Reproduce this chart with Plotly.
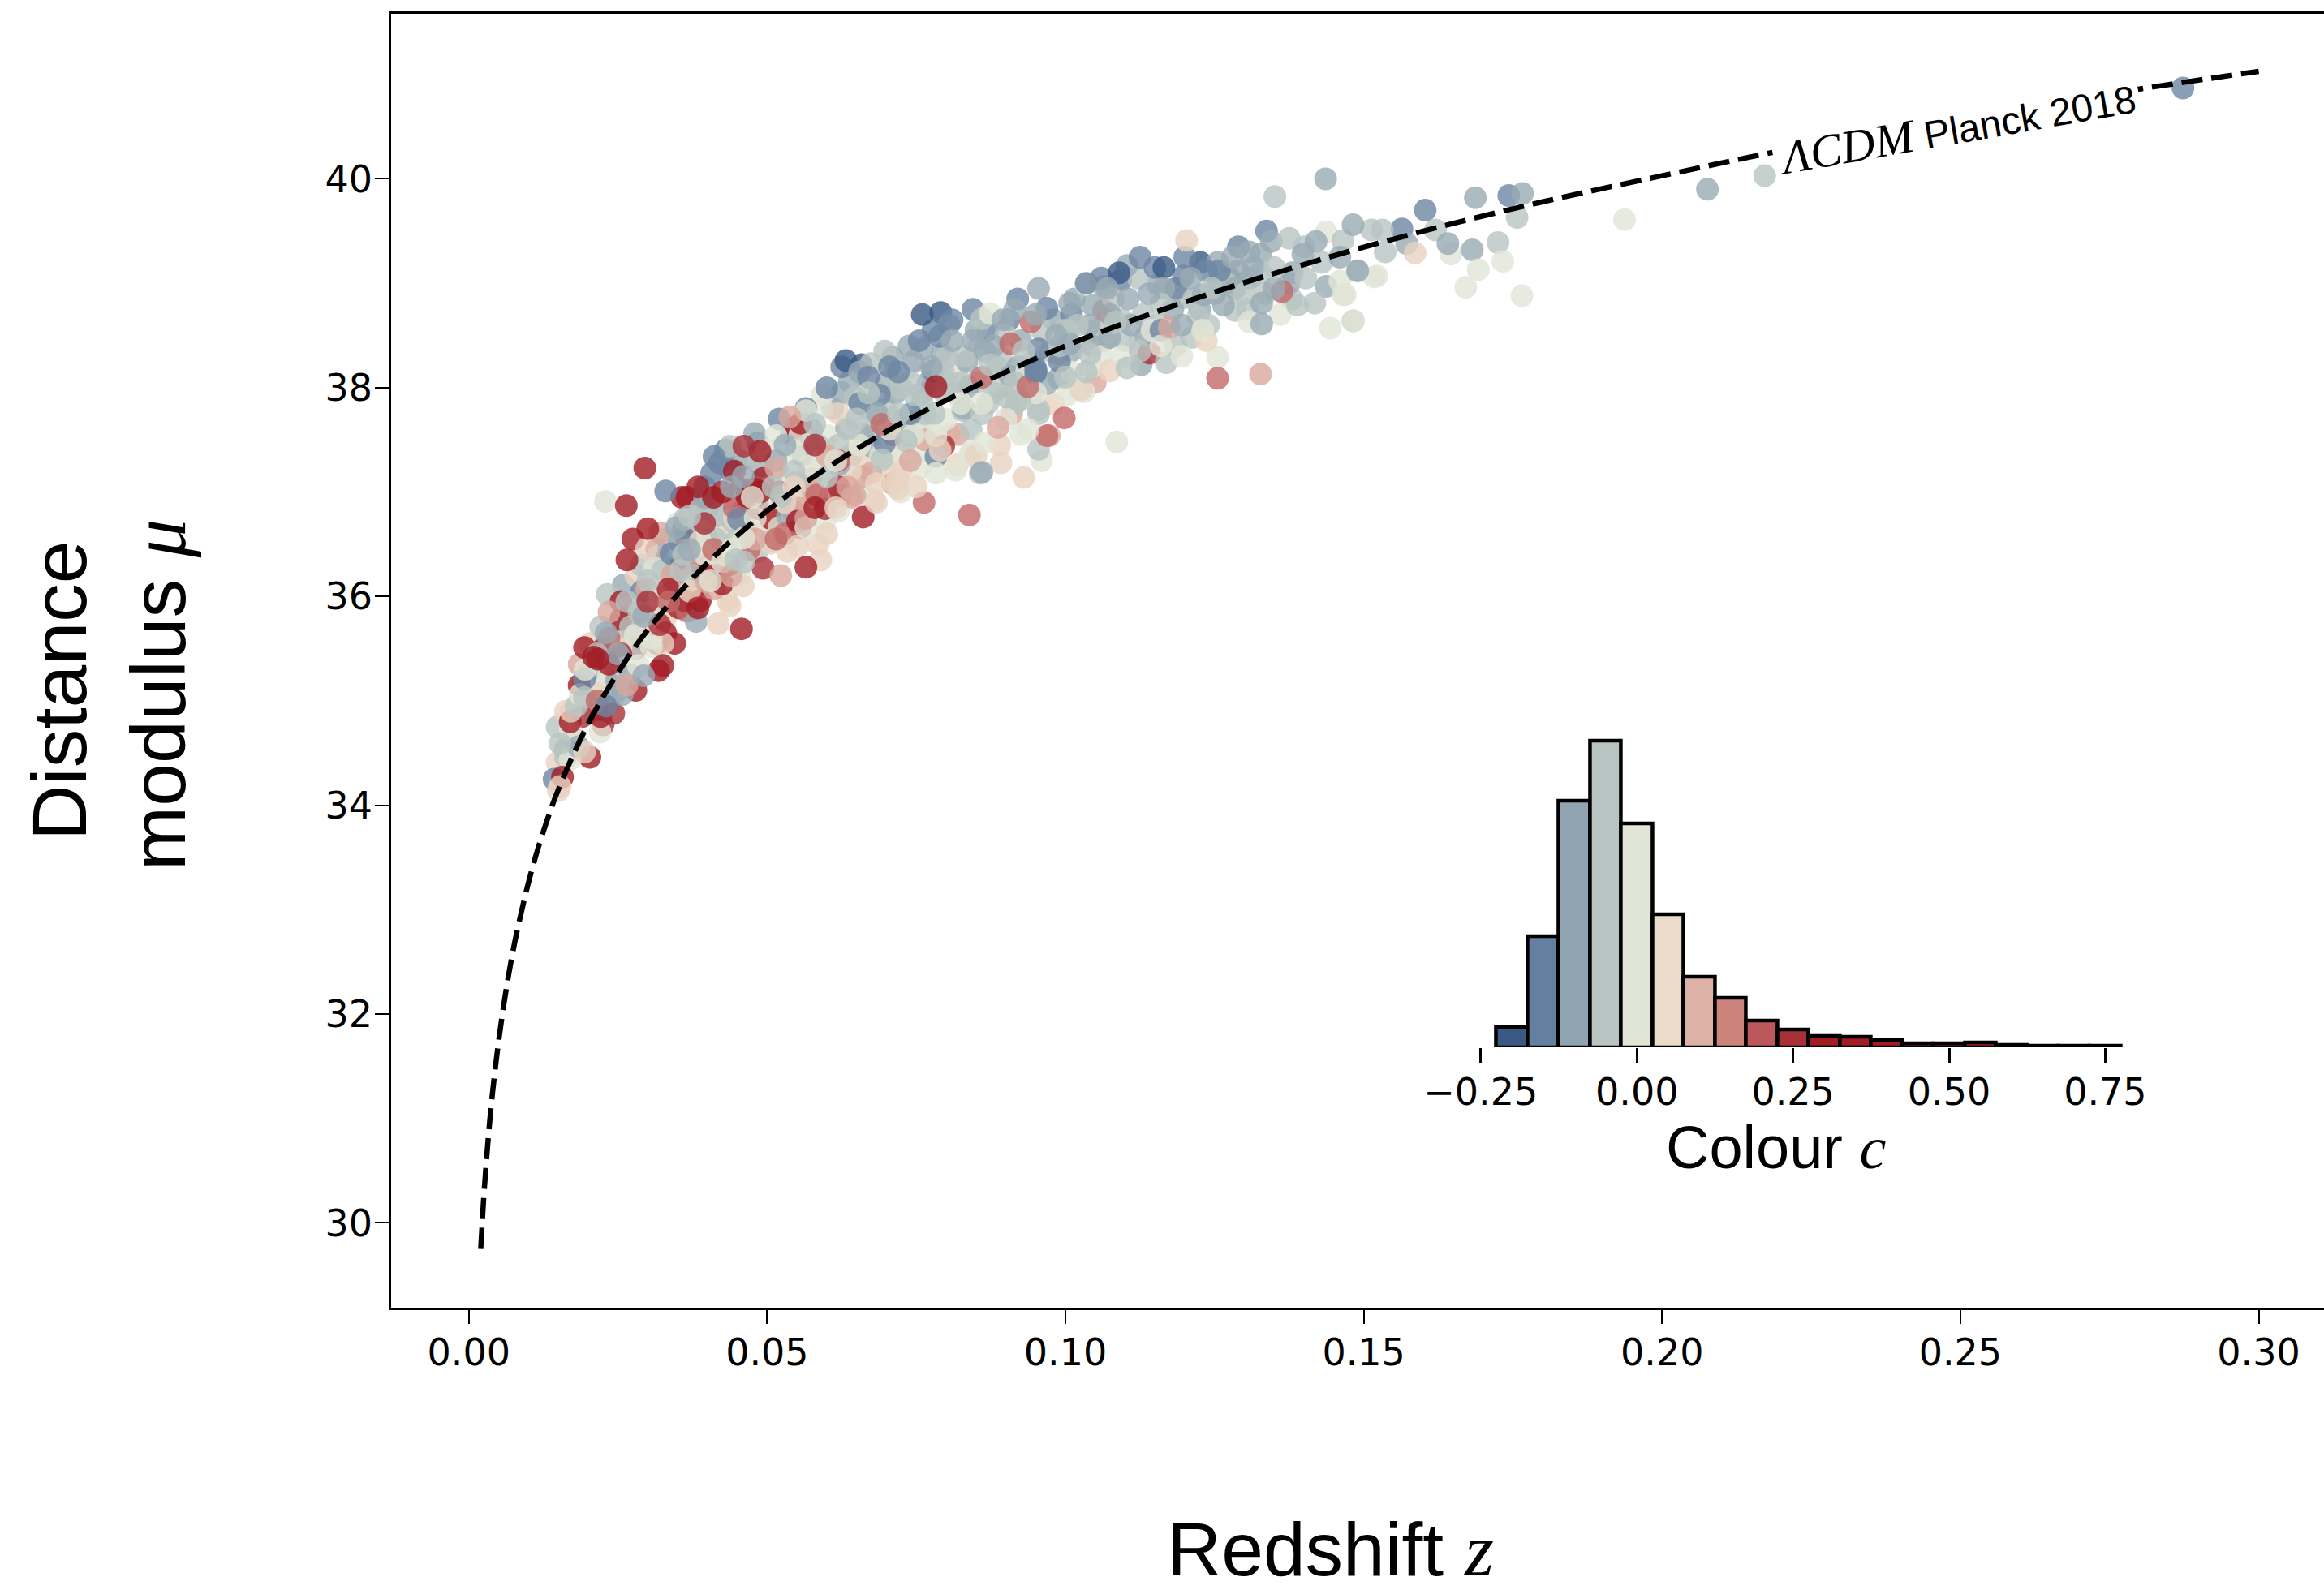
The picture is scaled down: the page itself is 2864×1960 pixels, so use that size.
import plotly.graph_objects as go

# ---------------- Supernova data, grouped by colour class ----------------
z_darkblue = [0.0791, 0.0632, 0.0658, 0.1165, 0.1226, 0.1090, 0.0760]
mu_darkblue = [38.72, 38.26, 38.22, 39.15, 39.20, 39.10, 38.70]
c_darkblue = -0.20

z_blue = [0.0330, 0.0194, 0.0143, 0.0252, 0.0339, 0.0203, 0.0778, 0.0789, 0.0778, 0.0969,
          0.0951, 0.0520, 0.0574, 0.0688, 0.0783, 0.0438, 0.0420, 0.0407, 0.0452, 0.0697,
          0.0484, 0.0411, 0.1337, 0.1258, 0.1255, 0.1236, 0.1198, 0.1093, 0.0950, 0.0955,
          0.0950, 0.1743, 0.1603, 0.1564, 0.2873,
          0.0290, 0.0360, 0.0430, 0.0470, 0.0540, 0.0600, 0.0670, 0.0720, 0.0810, 0.0870,
          0.0920, 0.1010, 0.1060, 0.1150, 0.1200, 0.1290, 0.1160, 0.0990, 0.0740, 0.0230,
          0.0625, 0.0705, 0.0755, 0.0845, 0.0905, 0.1035, 0.1125, 0.1185, 0.1275, 0.0655,
          0.0565, 0.0395]
mu_blue = [37.01, 35.21, 34.25, 35.60, 36.41, 35.29, 38.55, 38.49, 38.16, 38.76,
           38.16, 37.70, 37.49, 37.93, 37.34, 37.21, 37.28, 37.18, 36.74, 37.47,
           37.47, 37.34, 39.50, 39.12, 38.99, 39.12, 39.07, 39.03, 38.19, 38.37,
           38.14, 39.84, 39.70, 39.52, 40.87,
           36.05, 36.65, 37.40, 36.95, 37.55, 38.00, 38.10, 38.15, 38.65, 38.55,
           38.85, 38.70, 39.05, 39.15, 39.25, 39.35, 38.55, 38.25, 37.75, 34.95,
           38.20, 38.20, 38.45, 38.75, 38.65, 39.00, 39.25, 38.95, 39.05, 37.85,
           37.80, 37.05]
c_blue = -0.14

z_bluegrey = [0.0381, 0.0259, 0.0257, 0.0293, 0.0238, 0.0184, 0.0343, 0.0352, 0.0543, 0.0293,
              0.0250, 0.0248, 0.0248, 0.0162, 0.0710, 0.0760, 0.0915, 0.0969, 0.0860, 0.0479,
              0.0633, 0.0638, 0.0674, 0.0348, 0.0534, 0.0837, 0.0738, 0.0620, 0.1482, 0.1308,
              0.1327, 0.1398, 0.1437, 0.1329, 0.1329, 0.1289, 0.1103, 0.1064, 0.1155, 0.1231,
              0.1265, 0.1127, 0.0988, 0.1007, 0.1074, 0.1045, 0.1007, 0.0793, 0.0845, 0.0907,
              0.1687, 0.1766, 0.2076, 0.1572, 0.1641, 0.1682, 0.1490, 0.1436,
              0.0230, 0.0270, 0.0310, 0.0370, 0.0400, 0.0440, 0.0490, 0.0560, 0.0610, 0.0660,
              0.0700, 0.0730, 0.0770, 0.0810, 0.0850, 0.0880, 0.0920, 0.0950, 0.0980, 0.1010,
              0.1040, 0.1070, 0.1110, 0.1140, 0.1180, 0.1210, 0.1250, 0.1280, 0.1310, 0.1350,
              0.1380, 0.1420, 0.1460, 0.0890, 0.0830, 0.0760, 0.0640, 0.0530, 0.0460,
              0.0575, 0.0625, 0.0655, 0.0685, 0.0715, 0.0745, 0.0775, 0.0805, 0.0835, 0.0865,
              0.0895, 0.0925, 0.0955, 0.0985, 0.1015, 0.1045, 0.1075, 0.1105, 0.1135, 0.1165,
              0.1195, 0.1225, 0.1255, 0.1285, 0.1315, 0.1345, 0.1375, 0.0515, 0.0455, 0.0395]
mu_bluegrey = [35.76, 36.11, 35.06, 35.24, 35.40, 34.56, 36.27, 36.53, 36.82, 35.81,
               35.45, 35.19, 35.09, 34.54, 38.29, 38.37, 38.75, 38.04, 37.19, 37.56,
               37.62, 38.06, 37.44, 36.66, 36.77, 38.01, 38.40, 37.26, 39.56, 39.30,
               39.28, 39.28, 38.97, 38.81, 38.61, 39.12, 39.17, 38.97, 38.99, 38.89,
               38.79, 38.22, 38.09, 38.42, 38.48, 38.79, 38.81, 38.32, 38.45, 38.11,
               39.82, 39.86, 39.90, 39.38, 39.38, 39.32, 39.12, 40.00,
               35.65, 35.25, 35.95, 36.45, 36.85, 37.05, 37.25, 37.35, 37.80, 37.55,
               38.05, 37.70, 38.05, 38.45, 38.55, 38.40, 38.20, 38.70, 38.65, 38.35,
               38.60, 38.95, 38.60, 38.90, 38.75, 39.05, 38.90, 39.25, 39.05, 38.95,
               39.10, 39.40, 39.25, 38.00, 37.80, 37.95, 37.35, 37.45, 37.15,
               37.60, 37.95, 38.15, 37.75, 37.95, 38.25, 38.20, 38.60, 38.25, 38.35,
               38.65, 38.45, 38.95, 38.50, 38.85, 38.40, 38.70, 38.85, 38.50, 38.95,
               38.60, 38.75, 39.20, 38.95, 39.15, 39.40, 39.00, 37.30, 37.30, 36.95]
c_bluegrey = -0.09

z_grey = [0.0232, 0.0148, 0.0153, 0.0275, 0.0234, 0.0316, 0.0289, 0.0388, 0.0361, 0.0415,
          0.0524, 0.0442, 0.0483, 0.0447, 0.0461, 0.0506, 0.0352, 0.0271, 0.0221, 0.0194,
          0.0175, 0.0162, 0.0674, 0.0860, 0.0892, 0.0923, 0.0955, 0.0860, 0.0955, 0.0647,
          0.0710, 0.0747, 0.0796, 0.0756, 0.0738, 0.0438, 0.0370, 0.0388, 0.0420, 0.0692,
          0.0733, 0.0842, 0.0828, 0.0901, 0.0883, 0.0801, 0.0697, 0.0484, 0.1351, 0.1513,
          0.1375, 0.1465, 0.1489, 0.1403, 0.1418, 0.1389, 0.1379, 0.1482, 0.1284, 0.1327,
          0.1122, 0.1198, 0.1222, 0.1212, 0.1169, 0.1103, 0.1041, 0.1084, 0.0998, 0.0874,
          0.0917, 0.0955, 0.0857, 0.1757, 0.2172, 0.1531, 0.1620, 0.1536, 0.1725,
          0.0205, 0.0245, 0.0265, 0.0300, 0.0330, 0.0360, 0.0400, 0.0430, 0.0470, 0.0510,
          0.0550, 0.0580, 0.0620, 0.0650, 0.0680, 0.0700, 0.0720, 0.0760, 0.0780, 0.0800,
          0.0830, 0.0850, 0.0880, 0.0900, 0.0930, 0.0960, 0.0990, 0.1020, 0.1050, 0.1080,
          0.1100, 0.1130, 0.1160, 0.1190, 0.1240, 0.1270, 0.1300, 0.1350, 0.1400, 0.1430,
          0.1000, 0.0945, 0.0870, 0.0815, 0.0740, 0.0670, 0.0600, 0.0450, 0.0375, 0.0285,
          0.0215, 0.0180,
          0.0545, 0.0585, 0.0635, 0.0665, 0.0695, 0.0725, 0.0765, 0.0795, 0.0825, 0.0855,
          0.0885, 0.0915, 0.0945, 0.0975, 0.1005, 0.1035, 0.1065, 0.1095, 0.1125, 0.1155,
          0.1185, 0.1215, 0.1245, 0.1305, 0.1335, 0.0355, 0.0325, 0.0255, 0.0415, 0.0485]
mu_grey = [36.02, 34.75, 34.59, 35.50, 34.98, 36.38, 36.30, 36.84, 36.74, 36.77,
           36.96, 36.72, 36.43, 36.35, 36.33, 36.53, 36.02, 35.71, 35.71, 35.03,
           34.64, 34.46, 38.23, 38.66, 38.28, 37.88, 37.79, 37.75, 37.41, 37.91,
           38.11, 37.93, 37.96, 37.67, 37.54, 37.44, 36.77, 36.71, 36.77, 37.31,
           37.49, 37.60, 37.78, 37.91, 38.11, 38.29, 38.35, 37.31, 39.83, 39.51,
           39.43, 39.41, 39.12, 39.05, 38.81, 38.79, 38.85, 38.64, 38.74, 39.10,
           39.05, 38.86, 38.68, 38.48, 38.24, 38.19, 38.32, 38.63, 38.55, 38.22,
           37.85, 37.75, 37.18, 39.63, 40.03, 39.51, 39.51, 39.30, 39.39,
           35.30, 35.55, 35.95, 36.15, 36.55, 36.40, 36.55, 36.95, 36.85, 37.05,
           37.10, 37.65, 37.45, 37.70, 37.60, 37.80, 37.75, 37.85, 37.75, 38.10,
           38.30, 38.05, 37.95, 38.50, 38.35, 38.55, 38.40, 38.60, 38.55, 38.85,
           38.45, 38.70, 38.80, 38.95, 38.60, 39.00, 38.90, 39.15, 39.35, 39.20,
           38.10, 37.95, 37.85, 37.95, 38.05, 37.95, 37.15, 36.55, 36.20, 35.85,
           35.45, 34.95,
           37.20, 37.45, 37.60, 37.80, 37.60, 38.00, 37.75, 38.15, 38.05, 38.40,
           38.20, 38.05, 38.25, 38.35, 38.55, 38.15, 38.45, 38.65, 38.35, 38.60,
           38.40, 38.85, 38.95, 38.75, 38.90, 36.25, 36.25, 35.80, 36.55, 36.95]
c_grey = -0.05

z_cream = [0.0229, 0.0187, 0.0306, 0.0284, 0.0234, 0.0211, 0.0189, 0.0170, 0.0311, 0.0388,
           0.0461, 0.0425, 0.0597, 0.0289, 0.0306, 0.0279, 0.0262, 0.0189, 0.0170, 0.0819,
           0.0874, 0.0842, 0.0937, 0.0602, 0.0592, 0.0738, 0.0756, 0.0547, 0.0520, 0.0565,
           0.0620, 0.0710, 0.0783, 0.0864, 0.0592, 0.0565, 0.0434, 0.0515, 0.0592, 0.0724,
           0.0756, 0.0783, 0.1437, 0.1522, 0.1460, 0.1465, 0.1444, 0.1308, 0.1034, 0.1255,
           0.1031, 0.1003, 0.0821, 0.0840, 0.0816, 0.1086, 0.1937, 0.1646, 0.1733, 0.1692,
           0.1671, 0.1765, 0.1517, 0.1469, 0.1483,
           0.0195, 0.0220, 0.0255, 0.0295, 0.0320, 0.0350, 0.0395, 0.0440, 0.0480, 0.0500,
           0.0540, 0.0570, 0.0610, 0.0640, 0.0690, 0.0730, 0.0770, 0.0800, 0.0860, 0.0900,
           0.0950, 0.1010, 0.1060, 0.1120, 0.1160, 0.1230, 0.1360, 0.0960, 0.0660, 0.0455,
           0.0475, 0.0525, 0.0555, 0.0615, 0.0655, 0.0705, 0.0745, 0.0825, 0.0885, 0.0935,
           0.1045, 0.1095, 0.1145, 0.1195, 0.0345, 0.0305, 0.0245, 0.0405, 0.0925, 0.0785]
mu_cream = [36.91, 35.06, 35.52, 35.34, 35.24, 35.19, 34.88, 34.72, 36.27, 36.53,
            36.56, 36.33, 36.72, 35.94, 35.60, 35.63, 35.32, 35.13, 34.44, 38.20,
            38.71, 37.39, 37.60, 37.54, 37.80, 38.19, 37.39, 37.39, 36.66, 36.66,
            36.82, 37.39, 37.54, 37.47, 37.93, 37.78, 37.41, 37.54, 37.31, 37.00,
            37.23, 37.18, 39.49, 39.07, 39.02, 38.89, 38.57, 38.63, 38.99, 38.29,
            37.96, 37.93, 38.22, 37.36, 37.21, 37.48, 39.61, 39.28, 39.21, 39.13,
            38.96, 38.88, 39.06, 38.89, 38.64,
            35.30, 34.70, 35.50, 35.75, 36.00, 36.70, 36.40, 36.45, 36.75, 37.40,
            36.95, 37.25, 37.10, 37.65, 37.35, 37.35, 37.60, 37.70, 37.85, 37.70,
            37.95, 38.15, 38.30, 38.40, 38.40, 38.55, 38.70, 37.30, 37.00, 36.20,
            36.95, 37.15, 37.55, 37.30, 37.45, 37.60, 37.55, 37.85, 38.05, 38.15,
            38.20, 38.30, 38.55, 38.30, 36.05, 35.85, 35.05, 36.15, 37.55, 37.35]
c_cream = 0.0

z_lightpink = [0.0585, 0.0418, 0.0434, 0.0171, 0.0150, 0.0225, 0.0298, 0.0683, 0.0719, 0.0534,
               0.0551, 0.0438, 0.0203, 0.0162, 0.0194, 0.0148, 0.0153, 0.0892, 0.0930, 0.0620,
               0.0819, 0.0719, 0.0679, 0.0506, 0.0647, 0.0683, 0.1203, 0.1236, 0.1074, 0.1026,
               0.1586,
               0.0210, 0.0245, 0.0280, 0.0330, 0.0370, 0.0415, 0.0460, 0.0490, 0.0530, 0.0560,
               0.0600, 0.0640, 0.0700, 0.0750, 0.0790, 0.0850, 0.0890, 0.0980, 0.0590, 0.0420,
               0.0365, 0.0445, 0.0505, 0.0545, 0.0615, 0.0665, 0.0725, 0.0805, 0.0255, 0.0325]
mu_lightpink = [36.50, 35.74, 35.96, 34.90, 34.14, 35.09, 36.46, 36.90, 37.03, 36.43,
                36.48, 35.91, 35.55, 34.90, 34.51, 34.41, 34.18, 37.28, 37.14, 37.75,
                37.26, 37.13, 36.92, 36.51, 37.39, 37.08, 39.41, 38.45, 38.16, 37.98,
                39.29,
                35.00, 35.40, 36.20, 35.80, 36.05, 36.35, 36.10, 36.60, 36.90, 36.95,
                36.60, 37.20, 37.25, 37.05, 37.40, 37.35, 37.45, 37.85, 36.35, 36.60,
                36.35, 36.75, 36.80, 37.05, 36.85, 37.30, 37.20, 37.55, 35.65, 35.55]
c_lightpink = 0.06

z_pink = [0.0523, 0.0320, 0.0574, 0.0642, 0.0398, 0.0298, 0.0411, 0.0887, 0.0973, 0.0538,
          0.0574, 0.0515, 0.0647, 0.0674, 0.0710, 0.1174, 0.1327, 0.0988,
          0.0185, 0.0235, 0.0265, 0.0340, 0.0380, 0.0440, 0.0480, 0.0550, 0.0600, 0.0660,
          0.0740, 0.0820, 0.0910, 0.1050, 0.0290,
          0.0385, 0.0465, 0.0565, 0.0635, 0.0765, 0.0275]
mu_pink = [36.20, 36.61, 37.00, 36.95, 36.14, 36.07, 36.07, 37.62, 37.54, 37.72,
           37.13, 37.23, 36.97, 37.18, 37.08, 38.58, 38.13, 38.32,
           35.35, 35.85, 35.15, 36.20, 36.40, 36.20, 36.55, 36.85, 37.35, 37.15,
           37.30, 37.55, 37.75, 38.05, 35.60,
           36.10, 36.65, 36.75, 37.05, 37.50, 35.80]
c_pink = 0.11

z_rosered = [0.0763, 0.0366, 0.0942, 0.0908, 0.0937, 0.0839, 0.0692, 0.0583, 0.1363, 0.1255,
             0.1064, 0.0998, 0.0969,
             0.0215, 0.0280, 0.0345, 0.0410, 0.0470, 0.0530, 0.0620, 0.0710, 0.0860, 0.0235,
             0.0335, 0.0445, 0.0515, 0.0605]
mu_rosered = [36.90, 35.86, 38.63, 38.42, 38.01, 36.78, 37.65, 36.97, 38.92, 38.09,
              38.74, 37.71, 37.54,
              35.00, 35.50, 36.10, 36.45, 36.45, 36.60, 37.30, 37.55, 38.10, 35.60,
              35.95, 36.85, 36.55, 36.95]
c_rosered = 0.18

z_red = [0.0225, 0.0243, 0.0320, 0.0415, 0.0493, 0.0556, 0.0597, 0.0361, 0.0796, 0.0620,
         0.0479, 0.0461, 0.1141,
         0.0190, 0.0300, 0.0395, 0.0450, 0.0520, 0.0580, 0.0245,
         0.0315, 0.0395, 0.0255]
mu_red = [34.77, 34.88, 35.73, 36.20, 36.27, 36.66, 36.84, 35.96, 37.44, 37.05,
          37.03, 37.44, 38.33,
          34.85, 35.95, 36.70, 36.90, 37.00, 37.45, 35.25,
          36.45, 36.20, 35.45]
c_red = 0.25

z_darkred = [0.0264, 0.0275, 0.0661, 0.0565, 0.0457, 0.0255, 0.0194, 0.0203, 0.0157, 0.0318,
             0.0325, 0.0216, 0.0330, 0.0384, 0.0388, 0.0425, 0.0352, 0.0366, 0.0425, 0.0466,
             0.0488, 0.0551, 0.0624, 0.0379, 0.0334, 0.0352, 0.0225, 0.0209, 0.0221, 0.0295,
             0.0556, 0.0783, 0.0493, 0.0456, 0.0488, 0.0393, 0.0357, 0.0384, 0.0484, 0.0547,
             0.0185, 0.0235, 0.0280, 0.0345, 0.0400, 0.0445, 0.0410, 0.0505, 0.0580, 0.0170,
             0.0300, 0.0265,
             0.0365, 0.0435, 0.0315, 0.0255]
mu_darkred = [36.87, 36.55, 36.76, 36.28, 35.69, 35.78, 35.51, 34.46, 34.27, 35.29,
              35.34, 35.40, 35.65, 35.89, 35.96, 36.12, 36.27, 36.95, 37.00, 36.96,
              37.00, 36.72, 36.97, 36.30, 36.07, 35.89, 35.50, 35.42, 34.85, 37.23,
              37.66, 38.01, 37.13, 37.03, 37.39, 36.95, 36.95, 37.05, 36.84, 37.62,
              35.15, 35.35, 35.10, 35.55, 36.30, 37.20, 36.95, 36.75, 36.85, 34.80,
              36.65, 36.35,
              36.55, 36.30, 35.55, 35.95]
c_darkred = 0.32

# ---------------- LambdaCDM (Planck 2018) curve ----------------
curve_z = [0.002, 0.0025, 0.003, 0.0035, 0.004, 0.005, 0.006, 0.007, 0.008, 0.010,
           0.012, 0.015, 0.020, 0.025, 0.030, 0.040, 0.050, 0.060, 0.070, 0.080,
           0.100, 0.120, 0.140, 0.160, 0.180, 0.200, 0.220, 0.240, 0.260, 0.280, 0.300]
curve_mu = [29.75, 30.24, 30.63, 30.97, 31.26, 31.74, 32.14, 32.48, 32.77, 33.26,
            33.66, 34.15, 34.78, 35.27, 35.68, 36.32, 36.82, 37.23, 37.58, 37.88,
            38.40, 38.82, 39.18, 39.50, 39.78, 40.03, 40.27, 40.48, 40.67, 40.86, 41.03]

# ---------------- Colour histogram (inset) ----------------
hist_bin_left = [-0.225, -0.175, -0.125, -0.075, -0.025, 0.025, 0.075, 0.125, 0.175, 0.225,
                 0.275, 0.325, 0.375, 0.425, 0.475, 0.525, 0.575, 0.625, 0.675, 0.725]
hist_bin_width = 0.05
hist_counts = [16, 88, 196, 244, 178, 106, 56, 39, 21, 14, 9, 8, 6, 3, 3, 4, 2, 1, 1, 1]

x_ticks = [0.00, 0.05, 0.10, 0.15, 0.20, 0.25, 0.30]
x_ticklabels = ["0.00", "0.05", "0.10", "0.15", "0.20", "0.25", "0.30"]
y_ticks = [30, 32, 34, 36, 38, 40]
y_ticklabels = ["30", "32", "34", "36", "38", "40"]
inset_ticks = [-0.25, 0.0, 0.25, 0.50, 0.75]
inset_ticklabels = ["\u22120.25", "0.00", "0.25", "0.50", "0.75"]

# ---------------- styling ----------------
COLOURS = ["#3a5a85", "#647f9f", "#90a3b1", "#b8c4c2", "#e1e5d6", "#ebdcc9",
           "#dcb1a6", "#cc837b", "#bc585b", "#a83038", "#a11c24"]
colorscale = [[i / (len(COLOURS) - 1), col] for i, col in enumerate(COLOURS)]
CMIN, CMAX = -0.20, 0.30

W, H = 2864, 1960
TICKFONT = dict(family="DejaVu Sans", size=46, color="black")
LABELFONT = "Liberation Sans, Arial, Helvetica, sans-serif"

groups = [
    (z_darkblue, mu_darkblue, c_darkblue),
    (z_blue, mu_blue, c_blue),
    (z_bluegrey, mu_bluegrey, c_bluegrey),
    (z_grey, mu_grey, c_grey),
    (z_cream, mu_cream, c_cream),
    (z_lightpink, mu_lightpink, c_lightpink),
    (z_pink, mu_pink, c_pink),
    (z_rosered, mu_rosered, c_rosered),
    (z_red, mu_red, c_red),
    (z_darkred, mu_darkred, c_darkred),
]
pts = []
for zs, mus, cval in groups:
    for zz, mm in zip(zs, mus):
        pts.append((zz, mm, cval))
pts.sort(key=lambda p: (round(p[0] * 10000) % 7, p[0]))
sn_z = [p[0] for p in pts]
sn_mu = [p[1] for p in pts]
sn_c = [p[2] for p in pts]

fig = go.Figure()

fig.add_trace(go.Scatter(
    x=sn_z, y=sn_mu, mode="markers",
    marker=dict(size=28, color=sn_c, colorscale=colorscale, cmin=CMIN, cmax=CMAX,
                opacity=0.8, line=dict(width=0), showscale=False),
    showlegend=False, hoverinfo="skip", xaxis="x", yaxis="y"))

fig.add_trace(go.Scatter(
    x=curve_z, y=curve_mu, mode="lines",
    line=dict(color="black", width=6.5, dash="26px,11px", shape="spline"),
    showlegend=False, hoverinfo="skip", xaxis="x", yaxis="y"))

hist_centers = [b + hist_bin_width / 2 for b in hist_bin_left]
fig.add_trace(go.Bar(
    x=hist_centers, y=hist_counts, width=hist_bin_width,
    marker=dict(color=hist_centers, colorscale=colorscale, cmin=CMIN, cmax=CMAX,
                line=dict(color="black", width=4.5)),
    showlegend=False, hoverinfo="skip", xaxis="x2", yaxis="y2"))


def px(x):
    return x / W


def py(y):
    return (H - y) / H


fig.update_layout(
    width=W, height=H, autosize=False,
    margin=dict(l=0, r=0, t=0, b=0, autoexpand=False),
    paper_bgcolor="white", plot_bgcolor="white",
    bargap=0,
    xaxis=dict(domain=[px(482), 1.0], range=[-0.01302, 0.31094],
               showgrid=False, zeroline=False, automargin=False,
               showline=True, linecolor="black", linewidth=2.5, mirror=True,
               ticks="outside", ticklen=17, tickwidth=2, tickcolor="black",
               tickvals=x_ticks, ticktext=x_ticklabels, tickfont=TICKFONT,
               ticklabelstandoff=-4, anchor="y"),
    yaxis=dict(domain=[py(1612), py(17)], range=[29.188, 41.581],
               showgrid=False, zeroline=False, automargin=False,
               showline=True, linecolor="black", linewidth=2.5, mirror=False,
               ticks="outside", ticklen=17, tickwidth=2, tickcolor="black",
               tickvals=y_ticks, ticktext=y_ticklabels, tickfont=TICKFONT,
               ticklabelstandoff=-6, anchor="x"),
    xaxis2=dict(domain=[px(1801.7), px(2632.9)], range=[-0.28, 0.80],
                showgrid=False, zeroline=False, showline=False, automargin=False,
                ticks="outside", ticklen=18, tickwidth=2.5, tickcolor="black",
                tickvals=inset_ticks, ticktext=inset_ticklabels, tickfont=TICKFONT,
                ticklabelstandoff=-3, anchor="y2"),
    yaxis2=dict(domain=[py(1291), py(888.2)], range=[0, 260], visible=False,
                anchor="x2"),
)

ann_common = dict(xref="paper", yref="paper", showarrow=False,
                  xanchor="center", yanchor="middle")
fig.add_annotation(text="Distance", x=px(73), y=py(851), textangle=-90,
                   font=dict(family=LABELFONT, size=95, color="black"), **ann_common)
fig.add_annotation(text="modulus <span style='font-family:Liberation Serif'><i>μ</i></span>",
                   x=px(196), y=py(857), textangle=-90,
                   font=dict(family=LABELFONT, size=95, color="black"), **ann_common)
fig.add_annotation(text="Redshift <span style='font-family:Liberation Serif'><i>z</i></span>",
                   x=px(1639), y=py(1910),
                   font=dict(family=LABELFONT, size=93, color="black"), **ann_common)
fig.add_annotation(text="Colour <span style='font-family:Liberation Serif'><i>c</i></span>",
                   x=px(2189), y=py(1415),
                   font=dict(family=LABELFONT, size=74, color="black"), **ann_common)

fig.add_annotation(
    text="<span style='font-family:Liberation Serif;font-size:58px'><i>ΛCDM</i></span> Planck 2018",
    x=0.2493, y=40.49, xref="x", yref="y", showarrow=False,
    xanchor="center", yanchor="middle", textangle=-10,
    bgcolor="white", borderpad=5,
    font=dict(family=LABELFONT, size=48, color="black"))

# remove the browser's default 8px body margin so the figure fills the window exactly
fig.write_html("out.html", config={"displayModeBar": False},
               post_script="document.body.style.margin='0px';")
